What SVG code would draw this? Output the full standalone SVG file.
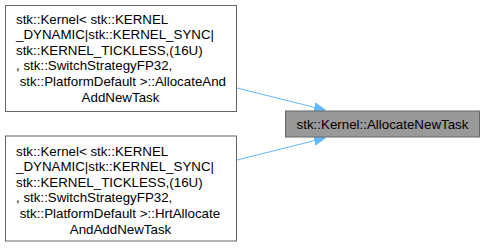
<svg xmlns="http://www.w3.org/2000/svg" width="485" height="248" viewBox="0 0 485 248">
<style>
.box{fill:#ffffff;stroke:#666666;stroke-width:1}
.target{fill:#999999;stroke:#666666;stroke-width:1}
text{font-family:"Liberation Sans",Arial,sans-serif;font-size:13.33px;fill:#000000}
.edge{fill:none;stroke:#63b8ff;stroke-width:1}
</style>
<defs>
<marker id="arr" markerUnits="userSpaceOnUse" markerWidth="12" markerHeight="10" refX="11" refY="5" orient="auto">
<polygon points="0,0.5 11,5 0,9.5" fill="#63b8ff" stroke="#63b8ff" stroke-width="1"/>
</marker>
</defs>
<g id="edges">
<path class="edge" d="M237,88 L325,110" marker-end="url(#arr)"/>
<path class="edge" d="M237,160 L325,138" marker-end="url(#arr)"/>
</g>
<g id="node1">
<rect class="box" x="5.5" y="5.5" width="231" height="106"/>
<text x="16" y="23.5">stk::Kernel&lt; stk::KERNEL</text>
<text x="16" y="39.1">_DYNAMIC|stk::KERNEL_SYNC|</text>
<text x="16" y="54.7">stk::KERNEL_TICKLESS,(16U)</text>
<text x="16" y="70.3">, stk::SwitchStrategyFP32,</text>
<text x="16" y="85.9" xml:space="preserve"> stk::PlatformDefault &gt;::AllocateAnd</text>
<text x="120.5" y="101.5" text-anchor="middle">AddNewTask</text>
</g>
<g id="node2">
<rect class="box" x="5.5" y="136" width="231" height="105"/>
<text x="16" y="155.5">stk::Kernel&lt; stk::KERNEL</text>
<text x="16" y="171.1">_DYNAMIC|stk::KERNEL_SYNC|</text>
<text x="16" y="186.7">stk::KERNEL_TICKLESS,(16U)</text>
<text x="16" y="202.3">, stk::SwitchStrategyFP32,</text>
<text x="16" y="217.9" xml:space="preserve"> stk::PlatformDefault &gt;::HrtAllocate</text>
<text x="120.5" y="233.5" text-anchor="middle">AndAddNewTask</text>
</g>
<g id="target">
<rect class="target" x="285.5" y="111" width="194" height="26"/>
<text x="382.5" y="128.5" text-anchor="middle">stk::Kernel::AllocateNewTask</text>
</g>
</svg>
